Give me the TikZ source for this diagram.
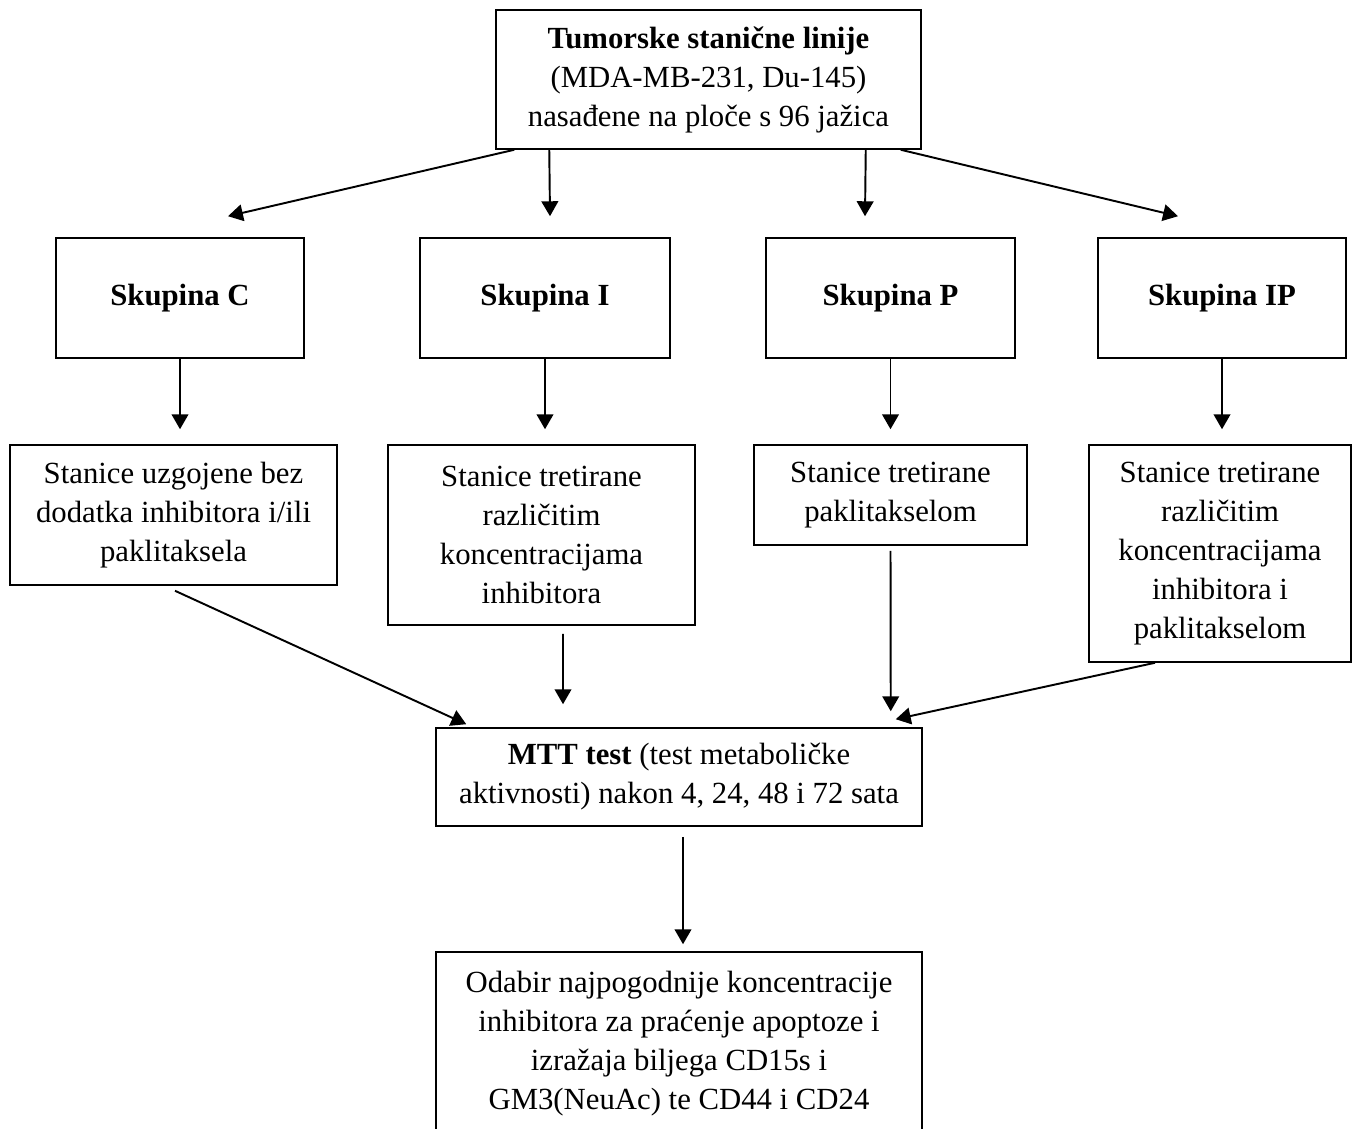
\documentclass[tikz,border=0pt]{standalone}
\usepackage{fontspec}
\setmainfont{Liberation Serif}
\usetikzlibrary{arrows.meta,calc}
\tikzset{
  box/.style={draw, line width=0.9pt, align=center, inner sep=0pt,
    font=\fontsize{17.5}{22.2}\selectfont},
  arr/.style={-{Triangle[length=8.5pt,width=9.5pt]}, line width=1.1pt},
}
\begin{document}
\begin{tikzpicture}[x=0.02cm,y=-0.02cm]
\useasboundingbox (0,0) rectangle (1354,1128);
% Stanicne linije
\node[box, minimum width=8.5cm, minimum height=2.78cm] (top) at (708.5,79.5)
  {\textbf{Tumorske stanične linije}\\(MDA-MB-231, Du-145)\\nasađene na ploče s 96 jažica};
% Skupine
\node[box, minimum width=4.96cm, minimum height=2.4cm] (gc) at (180,298) {\textbf{Skupina C}};
\node[box, minimum width=5cm, minimum height=2.4cm] (gi) at (545,298) {\textbf{Skupina I}};
\node[box, minimum width=4.98cm, minimum height=2.4cm] (gp) at (890.5,298) {\textbf{Skupina P}};
\node[box, minimum width=4.96cm, minimum height=2.4cm] (gip) at (1222,298) {\textbf{Skupina IP}};
% Tretmani
\node[box, minimum width=6.54cm, minimum height=2.8cm] (sc) at (173.5,515)
  {Stanice uzgojene bez\\dodatka inhibitora i/ili\\paklitaksela};
\node[box, minimum width=6.14cm, minimum height=3.6cm] (si) at (541.5,535)
  {Stanice tretirane\\različitim\\koncentracijama\\inhibitora};
\node[box, minimum width=5.46cm, minimum height=2cm] (sp) at (890.5,495)
  {Stanice tretirane\\paklitakselom};
\node[box, minimum width=5.24cm, minimum height=4.34cm] (sip) at (1220,553.5)
  {Stanice tretirane\\različitim\\koncentracijama\\inhibitora i\\paklitakselom};
% MTT i odabir
\node[box, minimum width=9.72cm, minimum height=1.96cm] (mtt) at (679,777)
  {\textbf{MTT test} (test metaboličke\\aktivnosti) nakon 4, 24, 48 i 72 sata};
\node[box, minimum width=9.72cm, minimum height=3.66cm] (odabir) at (679,1043.5)
  {Odabir najpogodnije koncentracije\\inhibitora za praćenje apoptoze i\\izražaja biljega CD15s i\\GM3(NeuAc) te CD44 i CD24};
% Strelice
\draw[arr] ($(top.south west)+(19,0)$) -- ($(gc.north)+(48,-21)$);
\draw[arr] ($(top.south west)+(54,0)$) -- ($(gi.north)+(5,-21)$);
\draw[arr] ($(top.south east)+(-56,0)$) -- ($(gp.north)+(-25.5,-21)$);
\draw[arr] ($(top.south east)+(-21,0)$) -- ($(gip.north)+(-44,-21)$);
\draw[arr, shorten >=0.3cm] (gc.south) -- (gc.south |- sc.north);
\draw[arr, shorten >=0.3cm] (gi.south) -- (gi.south |- si.north);
\draw[arr, shorten >=0.3cm] (gp.south) -- (gp.south |- sp.north);
\draw[arr, shorten >=0.3cm] (gip.south) -- (gip.south |- sip.north);
\draw[arr] ($(sc.south)+(1.5,5)$) -- ($(mtt.north west)+(31,-3)$);
\draw[arr] ($(si.south)+(21.5,8)$) -- ($(mtt.north)+(-116,-23)$);
\draw[arr] ($(sp.south)+(0,5)$) -- ($(mtt.north east)+(-32,-16)$);
\draw[arr] ($(sip.south)+(-65,0)$) -- ($(mtt.north east)+(-27,-8)$);
\draw[arr] ($(mtt.south)+(4,10)$) -- ($(odabir.north)+(4,-7)$);
\end{tikzpicture}
\end{document}
